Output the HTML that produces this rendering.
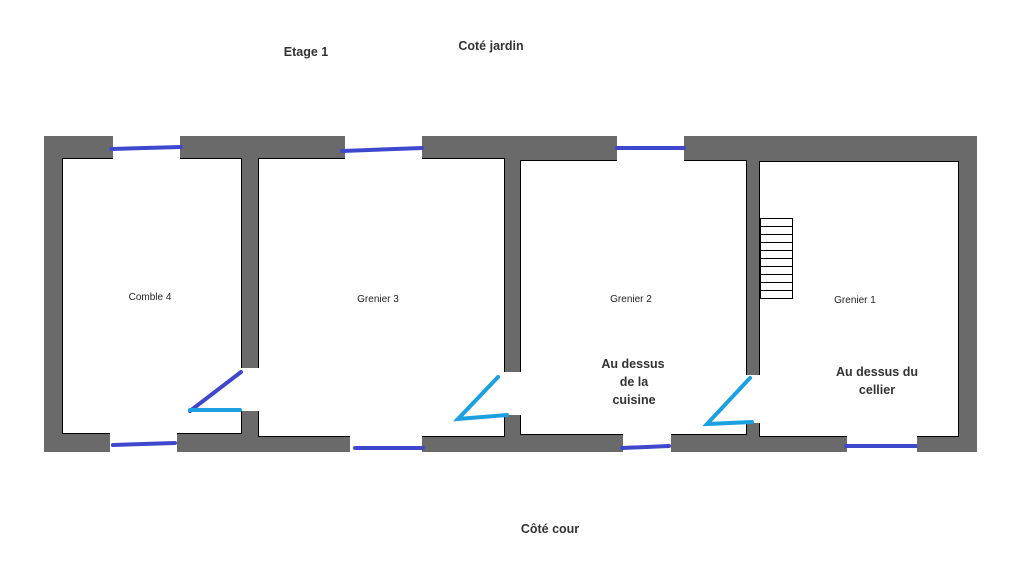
<!DOCTYPE html>
<html><head><style>body{margin:0;background:#fff}svg{display:block}</style></head>
<body>
<svg width="1011" height="588" viewBox="0 0 1011 588" xmlns="http://www.w3.org/2000/svg" font-family="Liberation Sans, Arial, sans-serif">
<rect width="1011" height="588" fill="#fff"/>
<rect x="44" y="136" width="933" height="316" fill="#6a6a6a"/>
<g fill="#fff" stroke="#000" stroke-width="1">
<rect x="62.5" y="158.5" width="179" height="275"/>
<rect x="258.5" y="158.5" width="246" height="278"/>
<rect x="520.5" y="160.5" width="226" height="274"/>
<rect x="759.5" y="161.5" width="199" height="275"/>
</g>
<g fill="#fff">
<rect x="113" y="135" width="67" height="24"/>
<rect x="345" y="135" width="77" height="24"/>
<rect x="617" y="135" width="67" height="26"/>
<rect x="110" y="433" width="67" height="20"/>
<rect x="350" y="436" width="72" height="17"/>
<rect x="623" y="434" width="48" height="19"/>
<rect x="847" y="436" width="70" height="17"/>
<rect x="241" y="368" width="18" height="43"/>
<rect x="504" y="372" width="17" height="43"/>
<rect x="746" y="375" width="14" height="48"/>
</g>
<g stroke="#3f48cc" stroke-width="4" stroke-linecap="round">
<line x1="111" y1="149" x2="181" y2="147"/>
<line x1="342" y1="151" x2="422" y2="148"/>
<line x1="617" y1="148" x2="684" y2="148"/>
<line x1="113" y1="445" x2="175" y2="443"/>
<line x1="355" y1="448" x2="423" y2="448"/>
<line x1="622" y1="448" x2="669" y2="446"/>
<line x1="846" y1="446" x2="916" y2="446"/>
<line x1="241" y1="372" x2="190" y2="411"/>
</g>
<g stroke="#1ba1e2" stroke-width="4" stroke-linecap="round" fill="none">
<polyline points="190,410 240,410"/>
<polyline points="498,377 458,419 507,415"/>
<polyline points="750,378 707,424 752,422"/>
</g>
<g fill="#fff" stroke="#000" stroke-width="1">
<rect x="760.5" y="218.5" width="32" height="80"/>
</g>
<g stroke="#000" stroke-width="1">
<line x1="760" y1="226.5" x2="792" y2="226.5"/><line x1="760" y1="234.5" x2="792" y2="234.5"/>
<line x1="760" y1="242.5" x2="792" y2="242.5"/><line x1="760" y1="250.5" x2="792" y2="250.5"/>
<line x1="760" y1="258.5" x2="792" y2="258.5"/><line x1="760" y1="266.5" x2="792" y2="266.5"/>
<line x1="760" y1="274.5" x2="792" y2="274.5"/><line x1="760" y1="282.5" x2="792" y2="282.5"/>
<line x1="760" y1="290.5" x2="792" y2="290.5"/>
</g>
<g font-size="10" fill="#222" text-anchor="middle">
<text x="150" y="300">Comble 4</text>
<text x="378" y="302">Grenier 3</text>
<text x="631" y="302">Grenier 2</text>
<text x="855" y="303">Grenier 1</text>
</g>
<g font-size="12.5" font-weight="bold" fill="#333" text-anchor="middle">
<text x="306" y="56">Etage 1</text>
<text x="491" y="50">Coté jardin</text>
<text x="550" y="533">Côté cour</text>
<text x="633" y="368">Au dessus</text>
<text x="634" y="386">de la</text>
<text x="634" y="404">cuisine</text>
<text x="877" y="376">Au dessus du</text>
<text x="877" y="394">cellier</text>
</g>
</svg>
</body></html>
